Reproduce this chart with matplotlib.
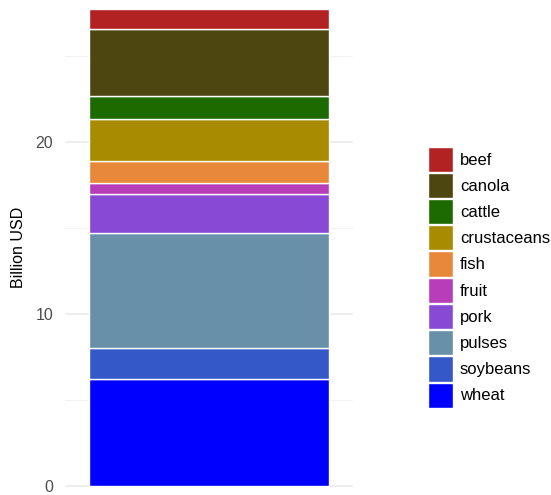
import matplotlib.pyplot as plt
from matplotlib.patches import Patch

plt.rcParams['font.family'] = ['Liberation Sans', 'DejaVu Sans']

# stacked from the bottom up
products = ["wheat", "soybeans", "pulses", "pork", "fruit",
            "fish", "crustaceans", "cattle", "canola", "beef"]
values = [6.2, 1.82, 6.67, 2.27, 0.67, 1.25, 2.44, 1.35, 3.9, 1.16]
colors = ["#0000FF", "#3558C8", "#6890A8", "#8849D4", "#B83DB8",
          "#E8883A", "#A88B00", "#1C6A00", "#4E4611", "#B22222"]

fig = plt.figure(figsize=(5.51, 4.95), dpi=100)
ax = fig.add_axes([65 / 551, 0, 288 / 551, 1])

bottom = 0
for p, v, c in zip(products, values, colors):
    ax.bar(0, v, width=1.0, bottom=bottom, color=c, edgecolor="white", linewidth=1, zorder=3)
    bottom += v

ax.set_xlim(-0.6, 0.6)
ax.set_ylim(-0.52, 28.26)
ax.set_yticks([0, 10, 20])
ax.set_yticks([5, 15, 25], minor=True)
ax.set_xticks([])
ax.grid(axis="y", which="major", color="#EBEBEB", linewidth=1.2, zorder=0)
ax.grid(axis="y", which="minor", color="#F2F2F2", linewidth=0.7, zorder=0)
ax.tick_params(axis="y", which="both", length=0, labelsize=11.5, labelcolor="#4D4D4D", pad=8.5)
for s in ax.spines.values():
    s.set_visible(False)
ax.set_ylabel("Billion USD", fontsize=11.5, labelpad=6.5)

handles = [Patch(facecolor=c, edgecolor="white", label=p)
           for p, c in zip(products[::-1], colors[::-1])]
fig.legend(handles=handles, loc="center left", bbox_to_anchor=(413 / 551, 0.44),
           frameon=False, fontsize=12, handlelength=1.5, handleheight=1.95,
           labelspacing=0.06, handletextpad=0.42)

fig.savefig("out.png", dpi=100)
